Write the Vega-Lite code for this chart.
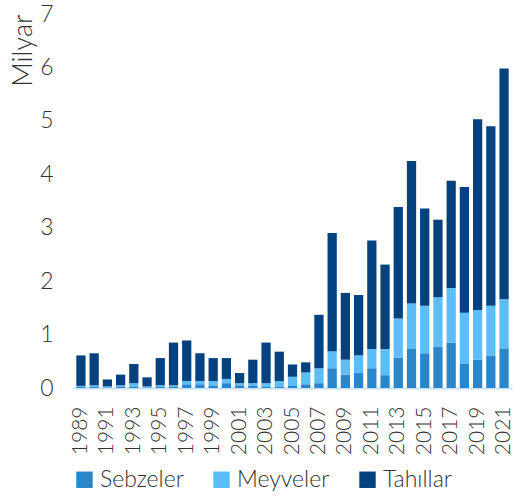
{
  "$schema": "https://vega.github.io/schema/vega-lite/v6.json",
  "autosize": {"type": "fit", "contains": "padding"},
  "width": 516,
  "height": 496,
  "padding": {"left": 9, "top": 3, "right": 3, "bottom": 4},
  "config": {
    "view": {"stroke": null},
    "font": "Lato",
    "axis": {"labelFont": "Lato", "titleFont": "Lato", "labelColor": "#333333", "titleColor": "#333333", "labelFontWeight": 300, "titleFontWeight": 300},
    "legend": {"labelFont": "Lato", "labelFontWeight": 300}
  },
  "data": {"values": [
    {"yil":"1989","tur":"Sebzeler","sira":1,"deger":0.02},{"yil":"1989","tur":"Meyveler","sira":2,"deger":0.02},{"yil":"1989","tur":"Tahıllar","sira":3,"deger":0.57},
    {"yil":"1990","tur":"Sebzeler","sira":1,"deger":0.02},{"yil":"1990","tur":"Meyveler","sira":2,"deger":0.03},{"yil":"1990","tur":"Tahıllar","sira":3,"deger":0.60},
    {"yil":"1991","tur":"Sebzeler","sira":1,"deger":0.01},{"yil":"1991","tur":"Meyveler","sira":2,"deger":0.02},{"yil":"1991","tur":"Tahıllar","sira":3,"deger":0.13},
    {"yil":"1992","tur":"Sebzeler","sira":1,"deger":0.02},{"yil":"1992","tur":"Meyveler","sira":2,"deger":0.03},{"yil":"1992","tur":"Tahıllar","sira":3,"deger":0.20},
    {"yil":"1993","tur":"Sebzeler","sira":1,"deger":0.02},{"yil":"1993","tur":"Meyveler","sira":2,"deger":0.07},{"yil":"1993","tur":"Tahıllar","sira":3,"deger":0.36},
    {"yil":"1994","tur":"Sebzeler","sira":1,"deger":0.01},{"yil":"1994","tur":"Meyveler","sira":2,"deger":0.02},{"yil":"1994","tur":"Tahıllar","sira":3,"deger":0.17},
    {"yil":"1995","tur":"Sebzeler","sira":1,"deger":0.02},{"yil":"1995","tur":"Meyveler","sira":2,"deger":0.03},{"yil":"1995","tur":"Tahıllar","sira":3,"deger":0.51},
    {"yil":"1996","tur":"Sebzeler","sira":1,"deger":0.02},{"yil":"1996","tur":"Meyveler","sira":2,"deger":0.03},{"yil":"1996","tur":"Tahıllar","sira":3,"deger":0.80},
    {"yil":"1997","tur":"Sebzeler","sira":1,"deger":0.07},{"yil":"1997","tur":"Meyveler","sira":2,"deger":0.06},{"yil":"1997","tur":"Tahıllar","sira":3,"deger":0.76},
    {"yil":"1998","tur":"Sebzeler","sira":1,"deger":0.07},{"yil":"1998","tur":"Meyveler","sira":2,"deger":0.06},{"yil":"1998","tur":"Tahıllar","sira":3,"deger":0.52},
    {"yil":"1999","tur":"Sebzeler","sira":1,"deger":0.05},{"yil":"1999","tur":"Meyveler","sira":2,"deger":0.08},{"yil":"1999","tur":"Tahıllar","sira":3,"deger":0.43},
    {"yil":"2000","tur":"Sebzeler","sira":1,"deger":0.09},{"yil":"2000","tur":"Meyveler","sira":2,"deger":0.08},{"yil":"2000","tur":"Tahıllar","sira":3,"deger":0.39},
    {"yil":"2001","tur":"Sebzeler","sira":1,"deger":0.05},{"yil":"2001","tur":"Meyveler","sira":2,"deger":0.04},{"yil":"2001","tur":"Tahıllar","sira":3,"deger":0.19},
    {"yil":"2002","tur":"Sebzeler","sira":1,"deger":0.05},{"yil":"2002","tur":"Meyveler","sira":2,"deger":0.04},{"yil":"2002","tur":"Tahıllar","sira":3,"deger":0.44},
    {"yil":"2003","tur":"Sebzeler","sira":1,"deger":0.02},{"yil":"2003","tur":"Meyveler","sira":2,"deger":0.07},{"yil":"2003","tur":"Tahıllar","sira":3,"deger":0.76},
    {"yil":"2004","tur":"Sebzeler","sira":1,"deger":0.02},{"yil":"2004","tur":"Meyveler","sira":2,"deger":0.11},{"yil":"2004","tur":"Tahıllar","sira":3,"deger":0.55},
    {"yil":"2005","tur":"Sebzeler","sira":1,"deger":0.05},{"yil":"2005","tur":"Meyveler","sira":2,"deger":0.16},{"yil":"2005","tur":"Tahıllar","sira":3,"deger":0.23},
    {"yil":"2006","tur":"Sebzeler","sira":1,"deger":0.07},{"yil":"2006","tur":"Meyveler","sira":2,"deger":0.22},{"yil":"2006","tur":"Tahıllar","sira":3,"deger":0.19},
    {"yil":"2007","tur":"Sebzeler","sira":1,"deger":0.09},{"yil":"2007","tur":"Meyveler","sira":2,"deger":0.28},{"yil":"2007","tur":"Tahıllar","sira":3,"deger":1.00},
    {"yil":"2008","tur":"Sebzeler","sira":1,"deger":0.37},{"yil":"2008","tur":"Meyveler","sira":2,"deger":0.32},{"yil":"2008","tur":"Tahıllar","sira":3,"deger":2.21},
    {"yil":"2009","tur":"Sebzeler","sira":1,"deger":0.25},{"yil":"2009","tur":"Meyveler","sira":2,"deger":0.28},{"yil":"2009","tur":"Tahıllar","sira":3,"deger":1.25},
    {"yil":"2010","tur":"Sebzeler","sira":1,"deger":0.28},{"yil":"2010","tur":"Meyveler","sira":2,"deger":0.33},{"yil":"2010","tur":"Tahıllar","sira":3,"deger":1.13},
    {"yil":"2011","tur":"Sebzeler","sira":1,"deger":0.37},{"yil":"2011","tur":"Meyveler","sira":2,"deger":0.36},{"yil":"2011","tur":"Tahıllar","sira":3,"deger":2.03},
    {"yil":"2012","tur":"Sebzeler","sira":1,"deger":0.24},{"yil":"2012","tur":"Meyveler","sira":2,"deger":0.49},{"yil":"2012","tur":"Tahıllar","sira":3,"deger":1.58},
    {"yil":"2013","tur":"Sebzeler","sira":1,"deger":0.57},{"yil":"2013","tur":"Meyveler","sira":2,"deger":0.73},{"yil":"2013","tur":"Tahıllar","sira":3,"deger":2.09},
    {"yil":"2014","tur":"Sebzeler","sira":1,"deger":0.73},{"yil":"2014","tur":"Meyveler","sira":2,"deger":0.85},{"yil":"2014","tur":"Tahıllar","sira":3,"deger":2.67},
    {"yil":"2015","tur":"Sebzeler","sira":1,"deger":0.65},{"yil":"2015","tur":"Meyveler","sira":2,"deger":0.89},{"yil":"2015","tur":"Tahıllar","sira":3,"deger":1.82},
    {"yil":"2016","tur":"Sebzeler","sira":1,"deger":0.77},{"yil":"2016","tur":"Meyveler","sira":2,"deger":0.93},{"yil":"2016","tur":"Tahıllar","sira":3,"deger":1.45},
    {"yil":"2017","tur":"Sebzeler","sira":1,"deger":0.85},{"yil":"2017","tur":"Meyveler","sira":2,"deger":1.02},{"yil":"2017","tur":"Tahıllar","sira":3,"deger":2.01},
    {"yil":"2018","tur":"Sebzeler","sira":1,"deger":0.45},{"yil":"2018","tur":"Meyveler","sira":2,"deger":0.96},{"yil":"2018","tur":"Tahıllar","sira":3,"deger":2.35},
    {"yil":"2019","tur":"Sebzeler","sira":1,"deger":0.53},{"yil":"2019","tur":"Meyveler","sira":2,"deger":0.93},{"yil":"2019","tur":"Tahıllar","sira":3,"deger":3.57},
    {"yil":"2020","tur":"Sebzeler","sira":1,"deger":0.61},{"yil":"2020","tur":"Meyveler","sira":2,"deger":0.93},{"yil":"2020","tur":"Tahıllar","sira":3,"deger":3.36},
    {"yil":"2021","tur":"Sebzeler","sira":1,"deger":0.73},{"yil":"2021","tur":"Meyveler","sira":2,"deger":0.93},{"yil":"2021","tur":"Tahıllar","sira":3,"deger":4.32}
  ]},
  "mark": {"type": "bar"},
  "encoding": {
    "x": {
      "field": "yil", "type": "ordinal",
      "scale": {"paddingInner": 0.3, "paddingOuter": 0.25},
      "axis": {
        "title": null, "labelAngle": -90, "labelFontSize": 21, "ticks": false,
        "labelPadding": 18, "domainColor": "#c6e0f5", "domainWidth": 2, "labelOverlap": false,
        "values": ["1989","1991","1993","1995","1997","1999","2001","2003","2005","2007","2009","2011","2013","2015","2017","2019","2021"]
      }
    },
    "y": {
      "field": "deger", "type": "quantitative", "stack": "zero",
      "scale": {"domain": [0, 7], "nice": false},
      "axis": {
        "title": "Milyar", "titleFontSize": 27, "titleAnchor": "end",
        "titlePadding": 2, "labelFontSize": 23, "values": [0,1,2,3,4,5,6,7], "labelOverlap": false,
        "domain": false, "ticks": false, "grid": false, "labelPadding": 20
      }
    },
    "color": {
      "field": "tur", "type": "nominal",
      "scale": {"domain": ["Sebzeler", "Meyveler", "Tahıllar"], "range": ["#2a86ca", "#5cbdf8", "#03427f"]},
      "legend": {
        "title": null, "orient": "bottom", "direction": "horizontal", "symbolType": "square",
        "symbolSize": 270, "labelFontSize": 23, "labelColor": "#333333", "columnPadding": 26,
        "symbolStrokeWidth": 0, "offset": 13
      }
    },
    "order": {"field": "sira", "type": "quantitative"}
  }
}
